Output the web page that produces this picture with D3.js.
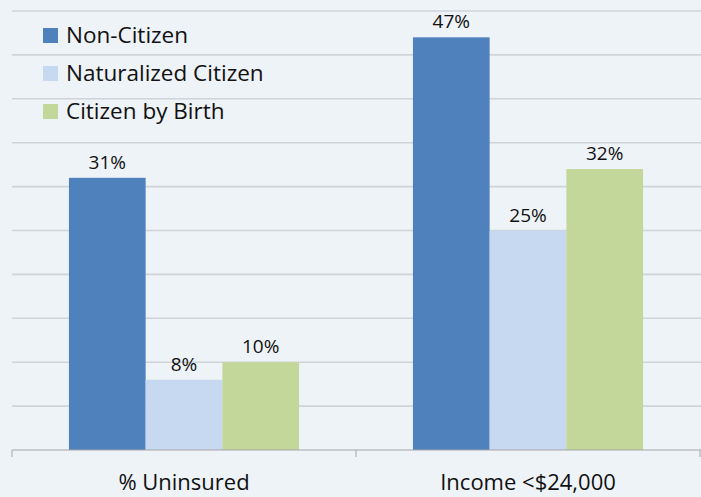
<!DOCTYPE html>
<html>
<head>
<meta charset="utf-8">
<script src="https://cdn.jsdelivr.net/npm/d3@7"></script>
<style>
  body { margin: 0; background: #eef3f8; }
  svg { display: block; font-family: "Open Sans", sans-serif; }
</style>
</head>
<body>
<svg width="701" height="497"></svg>
<script>
const categories = ["% Uninsured", "Income <$24,000"]
const series = ["Non-Citizen", "Naturalized Citizen", "Citizen by Birth"]
const nonCitizen = [31, 47]
const naturalized = [8, 25]
const byBirth = [10, 32]
const yTicks = [0, 5, 10, 15, 20, 25, 30, 35, 40, 45, 50]

const colors = ["#4f81bd", "#c6d9f0", "#c4d79b"]
const values = [nonCitizen, naturalized, byBirth]

const svg = d3.select("svg")
svg.append("rect").attr("width", 701).attr("height", 497).attr("fill", "#eef3f8")

const xScale = d3.scaleBand().domain(categories).range([12, 700])
    .paddingInner(0.331).paddingOuter(0.1655)
const subScale = d3.scaleBand().domain(series).range([0, xScale.bandwidth()])
const yScale = d3.scaleLinear().domain([0, 50]).range([450, 11])

// gridlines
svg.append("g")
    .selectAll("line")
    .data(yTicks.filter(d => d > 0))
    .enter()
    .append("line")
    .attr("x1", 12)
    .attr("x2", 701)
    .attr("y1", d => yScale(d))
    .attr("y2", d => yScale(d))
    .attr("stroke", "#d0d3d7")
    .attr("stroke-width", 1.6)

// bars
const groups = svg.append("g")
    .selectAll("g")
    .data(categories)
    .enter()
    .append("g")
    .attr("transform", d => `translate(${xScale(d)}, 0)`)

groups.selectAll("rect")
    .data((c, ci) => series.map((s, si) => ({ s, si, v: values[si][ci] })))
    .enter()
    .append("rect")
    .attr("x", d => subScale(d.s))
    .attr("y", d => yScale(d.v))
    .attr("width", subScale.bandwidth())
    .attr("height", d => yScale(0) - yScale(d.v))
    .attr("fill", d => colors[d.si])

groups.selectAll("text")
    .data((c, ci) => series.map((s, si) => ({ s, si, v: values[si][ci] })))
    .enter()
    .append("text")
    .attr("x", d => subScale(d.s) + subScale.bandwidth() / 2)
    .attr("y", d => yScale(d.v) - 9)
    .attr("text-anchor", "middle")
    .attr("font-size", 19)
    .attr("fill", "#111")
    .text(d => d.v + "%")

// x axis
const xAxis = d3.axisBottom(xScale).tickSize(0)
const xAxisG = svg.append("g")
    .attr("transform", `translate(0, ${yScale(0)})`)
    .call(xAxis)
xAxisG.select("path.domain").remove()
xAxisG.append("line").attr("x1", 12).attr("x2", 701).attr("stroke", "#a6a6a6").attr("stroke-width", 1.2)
xAxisG.selectAll("line.sep")
    .data([12, 356, 700])
    .enter()
    .append("line")
    .attr("class", "sep")
    .attr("x1", d => d).attr("x2", d => d)
    .attr("y1", 0).attr("y2", 7)
    .attr("stroke", "#a6a6a6")
xAxisG.selectAll(".tick text")
    .attr("y", 40)
    .attr("dy", 0)
    .attr("font-size", 22)
    .attr("fill", "#111")
    .attr("font-family", "'Open Sans', sans-serif")

// legend
const legend = svg.append("g")
    .attr("transform", "translate(43, 43)")
    .selectAll("g")
    .data(series)
    .enter()
    .append("g")
    .attr("transform", (d, i) => `translate(0, ${i * 38})`)
legend.append("rect")
    .attr("x", 0).attr("y", -15)
    .attr("width", 15).attr("height", 15)
    .attr("fill", (d, i) => colors[i])
legend.append("text")
    .attr("x", 23).attr("y", 0)
    .attr("font-size", 22.5)
    .attr("fill", "#111")
    .text(d => d)
</script>
</body>
</html>
